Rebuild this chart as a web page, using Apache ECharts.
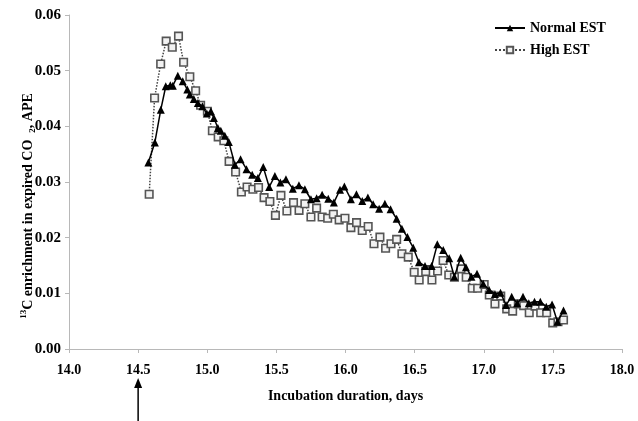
<!DOCTYPE html>
<html>
<head>
<meta charset="utf-8">
<script src="https://cdn.jsdelivr.net/npm/echarts@6/dist/echarts.min.js"></script>
<style>
html,body{margin:0;padding:0;background:#fff;}
#chart{width:638px;height:421px;}
</style>
</head>
<body>
<div id="chart"></div>
<script>
// Incubation duration (days) and 13C enrichment (APE)
const normalX = [14.574,14.621,14.664,14.700,14.733,14.751,14.787,14.823,14.856,14.874,14.903,14.932,14.965,14.997,15.026,15.048,15.077,15.098,15.127,15.156,
15.200,15.241,15.284,15.325,15.366,15.405,15.448,15.489,15.529,15.569,15.619,15.663,15.706,15.750,15.791,15.831,15.875,15.916,15.960,15.992,
16.039,16.079,16.121,16.162,16.200,16.243,16.285,16.326,16.370,16.408,16.448,16.490,16.531,16.575,16.623,16.664,16.707,16.750,16.787,16.833,
16.871,16.911,16.951,16.996,17.039,17.081,17.121,17.161,17.202,17.242,17.284,17.326,17.367,17.409,17.452,17.494,17.533,17.577];
const normalY = [0.0335,0.0371,0.0430,0.0472,0.0474,0.0473,0.0491,0.0481,0.0466,0.0457,0.0449,0.0442,0.0436,0.0423,0.0427,0.0415,0.0397,0.0392,0.0383,0.0372,
0.0331,0.0341,0.0323,0.0313,0.0307,0.0327,0.0291,0.0311,0.0299,0.0305,0.0288,0.0294,0.0287,0.0269,0.0271,0.0277,0.0270,0.0263,0.0286,0.0292,
0.0269,0.0278,0.0266,0.0272,0.0260,0.0252,0.0261,0.0251,0.0234,0.0216,0.0201,0.0182,0.0156,0.0149,0.0149,0.0188,0.0178,0.0163,0.0130,0.0164,
0.0147,0.0130,0.0135,0.0117,0.0106,0.0099,0.0101,0.0079,0.0094,0.0082,0.0094,0.0082,0.0085,0.0085,0.0076,0.0080,0.0049,0.0069];
const highX = [14.580,14.619,14.663,14.703,14.747,14.792,14.829,14.874,14.916,14.952,15.001,15.037,15.079,15.120,15.158,15.205,15.247,15.288,15.330,15.371,
15.411,15.453,15.493,15.533,15.576,15.624,15.664,15.706,15.750,15.791,15.831,15.871,15.912,15.954,15.996,16.039,16.080,16.121,16.164,16.206,
16.249,16.290,16.329,16.370,16.408,16.454,16.497,16.533,16.580,16.625,16.666,16.706,16.747,16.788,16.835,16.873,16.917,16.956,17.003,17.040,
17.081,17.123,17.166,17.209,17.250,17.289,17.329,17.371,17.412,17.455,17.499,17.537,17.577];
const highY = [0.0278,0.0451,0.0512,0.0553,0.0542,0.0562,0.0515,0.0489,0.0464,0.0438,0.0427,0.0392,0.0381,0.0374,0.0337,0.0318,0.0282,0.0291,0.0287,0.0290,
0.0272,0.0265,0.0240,0.0276,0.0248,0.0263,0.0249,0.0261,0.0237,0.0253,0.0237,0.0235,0.0242,0.0232,0.0235,0.0218,0.0227,0.0213,0.0220,0.0189,
0.0201,0.0181,0.0189,0.0197,0.0171,0.0165,0.0138,0.0124,0.0139,0.0124,0.0140,0.0159,0.0133,0.0129,0.0144,0.0129,0.0109,0.0109,0.0116,0.0097,
0.0081,0.0095,0.0072,0.0068,0.0081,0.0078,0.0065,0.0077,0.0065,0.0065,0.0047,0.0049,0.0052];
const seriesNames = ['Normal EST','High EST'];
const xTicks = {min:14.0, max:18.0, step:0.5};
const yTicks = {min:0.00, max:0.06, step:0.01};
const xTitle = 'Incubation duration, days';
const arrowAt = 14.5;

const FONT = '"Liberation Serif","Times New Roman",serif';
const zip = (xs, ys) => xs.map((x, i) => [x, ys[i]]);

const chart = echarts.init(document.getElementById('chart'), null, {renderer:'canvas'});
const axisGrey = '#b8b8b8';
chart.setOption({
  animation:false,
  backgroundColor:'#fff',
  grid:{left:69, right:16, top:15, bottom:72},
  legend:{
    orient:'vertical', left:489, top:16, itemGap:8, itemWidth:30, itemHeight:8,
    textStyle:{fontFamily:FONT, fontWeight:'bold', fontSize:14, color:'#000'},
    data:seriesNames
  },
  xAxis:{
    type:'value', min:xTicks.min, max:xTicks.max, interval:xTicks.step,
    name:xTitle, nameLocation:'middle', nameGap:40,
    nameTextStyle:{fontFamily:FONT, fontWeight:'bold', fontSize:14, color:'#000'},
    axisLine:{show:true, lineStyle:{color:axisGrey, width:1}},
    axisTick:{show:true, length:4, lineStyle:{color:axisGrey}},
    axisLabel:{margin:14, fontFamily:FONT, fontWeight:'bold', fontSize:14, color:'#000',
      formatter:v => v.toFixed(1)},
    splitLine:{show:false}
  },
  yAxis:{
    type:'value', min:yTicks.min, max:yTicks.max, interval:yTicks.step,
    axisLine:{show:true, lineStyle:{color:axisGrey, width:1}},
    axisTick:{show:true, length:4, lineStyle:{color:axisGrey}},
    axisLabel:{margin:8, fontFamily:FONT, fontWeight:'bold', fontSize:15, color:'#000',
      formatter:v => v.toFixed(2)},
    splitLine:{show:false}
  },
  series:[
    {
      name:seriesNames[1], type:'line', data:zip(highX, highY), z:2,
      symbol:'rect', symbolSize:7.5,
      lineStyle:{color:'#444', width:1.5, type:'dotted'},
      itemStyle:{color:'#f2f2f2', borderColor:'#555', borderWidth:1.6}
    },
    {
      name:seriesNames[0], type:'line', data:zip(normalX, normalY), z:3,
      symbol:'triangle', symbolSize:8,
      lineStyle:{color:'#000', width:1.5},
      itemStyle:{color:'#000'}
    }
  ]
});

// annotation arrow below the x axis and rotated y-axis title
const ax = chart.convertToPixel({xAxisIndex:0}, arrowAt);
const y0 = chart.convertToPixel({yAxisIndex:0}, 0);
const yMid = (chart.convertToPixel({yAxisIndex:0}, yTicks.min) + chart.convertToPixel({yAxisIndex:0}, yTicks.max)) / 2;
chart.setOption({
  graphic:[
    {type:'line', shape:{x1:ax, y1:y0+38, x2:ax, y2:421}, style:{stroke:'#000', lineWidth:1.5}},
    {type:'polygon', shape:{points:[[ax, y0+29],[ax-4, y0+39],[ax+4, y0+39]]}, style:{fill:'#000'}},
    {type:'text', x:28, y:yMid+24, rotation:Math.PI/2,
      style:{
        text:'{sup|13}{t|C enrichment in expired CO  }{sub|2}{t|, APE}',
        align:'center', verticalAlign:'middle',
        rich:{
          t:{fontFamily:FONT, fontWeight:'bold', fontSize:14, fill:'#000', lineHeight:18, verticalAlign:'middle'},
          sup:{fontFamily:FONT, fontWeight:'bold', fontSize:9, fill:'#000', lineHeight:18, verticalAlign:'top'},
          sub:{fontFamily:FONT, fontWeight:'bold', fontSize:9, fill:'#000', lineHeight:18, verticalAlign:'bottom'}
        }
      }
    }
  ]
});
</script>
</body>
</html>
